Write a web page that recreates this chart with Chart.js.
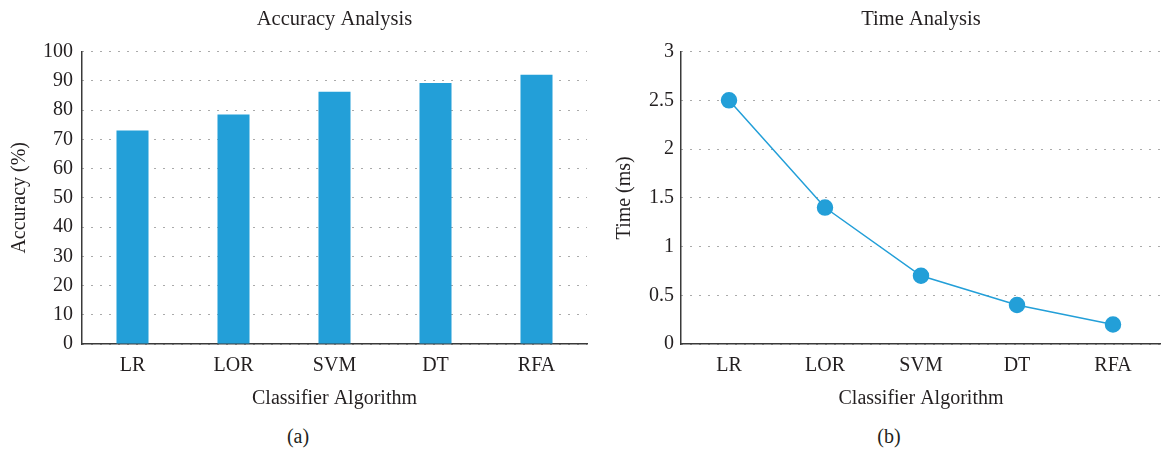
<!DOCTYPE html>
<html>
<head>
    <title>Accuracy and Time Analysis</title>
    <script src="https://cdn.jsdelivr.net/npm/chart.js"></script>
    <style>
        html, body { margin: 0; padding: 0; background: #fff; overflow: hidden; }
        body { width: 1161px; height: 451px; position: relative; }
        canvas { position: absolute; top: 0; }
        .cap { position: absolute; top: 425px; font: 20px "Liberation Serif", serif; color: #231f20; width: 60px; text-align: center; }
    </style>
</head>
<body>
    <canvas id="acc" width="600" height="420" style="left:0px"></canvas>
    <canvas id="time" width="580" height="420" style="left:590px"></canvas>
    <div class="cap" style="left:268px">(a)</div>
    <div class="cap" style="left:859px">(b)</div>
    <script>
        // data
        var algorithms = ["LR", "LOR", "SVM", "DT", "RFA"];
        var accuracy = [73, 78.5, 86.3, 89.3, 92.1];
        var timeMs = [2.5, 1.4, 0.7, 0.4, 0.2];
        var timeTicks = ["0", "0.5", "1", "1.5", "2", "2.5", "3"];

        var blue = "#239fd8";
        var ink = "#231f20";
        var serif = "'Liberation Serif', 'Times New Roman', serif";

        Chart.defaults.font.family = serif;
        Chart.defaults.font.size = 20;
        Chart.defaults.color = ink;
        Chart.defaults.animation = false;

        function fixWidth(w) { return function (scale) { scale.width = w; }; }
        function fixHeight(h) { return function (scale) { scale.height = h; }; }

        var dotted = {
            color: "#555",
            lineWidth: 1,
            drawTicks: false
        };

        // (a) accuracy bars
        new Chart(document.getElementById("acc"), {
            type: "bar",
            data: {
                labels: algorithms,
                datasets: [{
                    data: accuracy,
                    backgroundColor: blue,
                    barPercentage: 0.317,
                    categoryPercentage: 1
                }]
            },
            options: {
                responsive: false,
                devicePixelRatio: 1,
                layout: { padding: { left: 0, right: 13, top: 0, bottom: 7 } },
                plugins: {
                    legend: { display: false },
                    tooltip: { enabled: false },
                    title: {
                        display: true,
                        text: "Accuracy Analysis",
                        fullSize: false,
                        font: { size: 20.5, weight: "normal" },
                        padding: { top: 7, bottom: 20 }
                    }
                },
                scales: {
                    x: {
                        grid: { display: false },
                        border: { display: true, color: "#3a3a3a", width: 1.5 },
                        ticks: { padding: 2 },
                        title: { display: true, text: "Classifier Algorithm", padding: { top: 4, bottom: 2 } },
                        afterFit: fixHeight(69)
                    },
                    y: {
                        min: 0,
                        max: 100,
                        ticks: { stepSize: 10, padding: 9 },
                        grid: dotted,
                        border: { display: true, color: "#3a3a3a", width: 1.5, dash: [1, 8] },
                        title: { display: true, text: "Accuracy (%)", padding: { top: 8, bottom: 0 } },
                        afterFit: fixWidth(82)
                    }
                }
            }
        });

        // (b) time line
        new Chart(document.getElementById("time"), {
            type: "line",
            data: {
                labels: algorithms,
                datasets: [{
                    data: timeMs,
                    borderColor: blue,
                    borderWidth: 1.5,
                    backgroundColor: blue,
                    pointBackgroundColor: blue,
                    pointBorderColor: blue,
                    pointRadius: 7.5,
                    tension: 0
                }]
            },
            options: {
                responsive: false,
                devicePixelRatio: 1,
                layout: { padding: { left: 0, right: 5, top: 0, bottom: 7 } },
                plugins: {
                    legend: { display: false },
                    tooltip: { enabled: false },
                    title: {
                        display: true,
                        text: "Time Analysis",
                        fullSize: false,
                        font: { size: 20.5, weight: "normal" },
                        padding: { top: 7, bottom: 20 }
                    }
                },
                scales: {
                    x: {
                        offset: true,
                        grid: { display: false },
                        border: { display: true, color: "#3a3a3a", width: 1.5 },
                        ticks: { padding: 2 },
                        title: { display: true, text: "Classifier Algorithm", padding: { top: 4, bottom: 2 } },
                        afterFit: fixHeight(69)
                    },
                    y: {
                        min: 0,
                        max: 3,
                        ticks: {
                            stepSize: 0.5,
                            padding: 7,
                            callback: function (v, i) { return timeTicks[i]; }
                        },
                        grid: dotted,
                        border: { display: true, color: "#3a3a3a", width: 1.5, dash: [1, 8] },
                        title: { display: true, text: "Time (ms)", padding: { top: 23, bottom: 0 } },
                        afterFit: fixWidth(91)
                    }
                }
            }
        });
    </script>
</body>
</html>
